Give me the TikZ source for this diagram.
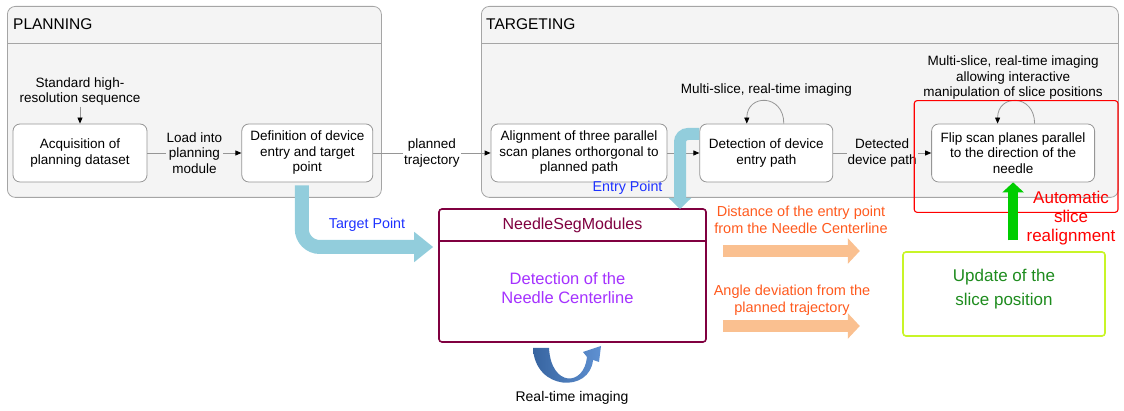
\documentclass[tikz,border=0pt]{standalone}
\usepackage{fontspec}
\setmainfont{Liberation Sans}
\usepackage{xcolor}
\usetikzlibrary{arrows.meta,positioning,calc}

\definecolor{framegray}{RGB}{165,165,165}
\definecolor{framefill}{RGB}{244,244,244}
\definecolor{boxgray}{RGB}{150,150,150}
\definecolor{lightcyan}{RGB}{146,205,220}
\definecolor{peach}{RGB}{250,192,144}
\definecolor{orangetxt}{RGB}{255,90,30}
\definecolor{bluetxt}{RGB}{30,50,255}
\definecolor{segred}{RGB}{128,0,64}
\definecolor{violettxt}{RGB}{165,50,255}
\definecolor{limeedge}{RGB}{200,245,40}
\definecolor{updgreen}{RGB}{30,140,30}
\definecolor{arrgreen}{RGB}{0,205,0}
\definecolor{rtblueA}{RGB}{55,100,160}
\definecolor{rtblueB}{RGB}{95,145,210}

\newcommand{\fsz}[2]{\fontsize{#1}{#2}\selectfont}

\begin{document}
\begin{tikzpicture}[x=1pt, y=1pt,
  font=\fsz{13.5}{15.5},
  frame/.style={draw=framegray, line width=0.8pt, fill=framefill, rounded corners=8pt, anchor=north west, inner sep=0pt},
  hdr/.style={font=\fsz{15.5}{18}, anchor=west, inner sep=0pt},
  stepbox/.style={draw=boxgray, line width=0.8pt, fill=white, rounded corners=7pt, align=center, minimum height=58pt, inner sep=2pt},
  lab/.style={align=center, inner sep=1pt},
  arr/.style={-{Triangle[length=6pt, width=5pt, color=black]}, draw=boxgray, line width=0.8pt},
  bigarr/.style={draw=lightcyan, line width=14pt, rounded corners=18pt, -{Triangle[length=19pt, width=29pt]}},
  entarr/.style={draw=lightcyan, line width=12pt, rounded corners=8pt, -{Triangle[length=11pt, width=22pt]}},
  orarr/.style={draw=peach, line width=12pt, -{Triangle[length=12pt, width=25pt]}},
  grarr/.style={draw=arrgreen, line width=10pt, -{Triangle[length=10pt, width=21pt]}},
  orlbl/.style={font=\fsz{14.5}{16.5}, text=orangetxt, align=center, inner sep=1pt},
  bllbl/.style={font=\fsz{14.3}{16}, text=bluetxt, inner sep=1pt},
  segbox/.style={draw=segred, line width=1.6pt, fill=white, rounded corners=3pt, inner sep=0pt},
  updbox/.style={draw=limeedge, line width=1.6pt, fill=white, rounded corners=3pt, align=center}]
\useasboundingbox (0,0) rectangle (1124,411);
% frames
\node[frame, minimum width=374pt, minimum height=191pt] (plan) at (7,405) {};
\node[frame, minimum width=637pt, minimum height=191pt] (targ) at (481,405) {};
\draw[framegray, line width=0.8pt] ([yshift=-37pt]plan.north west) -- ([yshift=-37pt]plan.north east);
\draw[framegray, line width=0.8pt] ([yshift=-37pt]targ.north west) -- ([yshift=-37pt]targ.north east);
\node[hdr] at ([xshift=6pt,yshift=-18pt]plan.north west) {PLANNING};
\node[hdr] at ([xshift=5pt,yshift=-18pt]targ.north west) {TARGETING};
% steps
\node[stepbox, minimum width=134pt] (acq) at (80,258) {Acquisition of\\planning dataset};
\node[stepbox, minimum width=131pt, right=94pt of acq] (def) {Definition of device\\entry and target\\point};
\node[stepbox, minimum width=176pt] (align) at (579,258) {Alignment of three parallel\\scan planes orthorgonal to\\planned path};
\node[stepbox, minimum width=133pt, right=32pt of align] (det) {Detection of device\\entry path};
\node[stepbox, minimum width=163pt, right=98pt of det] (flip) {Flip scan planes parallel\\to the direction of the\\needle};
\node[lab, above=17pt of acq] (std) {Standard high-\\resolution sequence};
\node[lab, above=26pt of det] (detlbl) {Multi-slice, real-time imaging};
\node[lab, above=23pt of flip] (fliplbl) {Multi-slice, real-time imaging\\allowing interactive\\manipulation of slice positions};
% thin connectors
\draw[arr] (std) -- (acq);
\draw[arr] (acq) -- node[lab, fill=framefill] {Load into\\planning\\module} (def);
\draw[arr] (def) -- node[lab, fill=white] {planned\\trajectory} (align);
\draw[arr] (align) -- (det);
\draw[arr] (det) -- node[lab, fill=framefill] {Detected\\device path} (flip);
\draw[arr] ([xshift=17.5pt]det.north) .. controls +(0,30) and +(0,30) .. ([xshift=-19.5pt]det.north);
\draw[arr] ([xshift=21.5pt]flip.north) .. controls +(0,30) and +(0,30) .. ([xshift=-15.5pt]flip.north);
\draw[red, line width=1.1pt, rounded corners=3pt] ([xshift=-17pt,yshift=23pt]flip.north west) rectangle ([xshift=23pt,yshift=-30pt]flip.south east);
% module
\node[segbox, minimum width=267pt, minimum height=133pt] (seg) at (572.5,135.5) {};
\draw[segred, line width=1.6pt] ([yshift=-33pt]seg.north west) -- ([yshift=-33pt]seg.north east);
\node[font=\fsz{16}{19}, text=segred] (segttl) at ($(seg.north)+(0,-17)$) {NeedleSegModules};
\node[font=\fsz{16.5}{19}, text=violettxt, align=center] (segtxt) at ($(seg.center)+(-5,-13)$) {Detection of the\\Needle Centerline};
\node[updbox, minimum width=202pt, minimum height=84pt, text depth=14pt, font=\fsz{17}{24}, text=updgreen] (upd) at (1004,117) {Update of the\\slice position};
% big arrows
\coordinate (tgtip) at ($(seg.west)+(-5,28.5)$);
\coordinate (entip) at (680,202);
\draw[bigarr] ([xshift=-5.5pt,yshift=-3pt]def.south) |- (tgtip);
\draw[entarr] ([yshift=19pt]det.west) -| (entip);
\node[bllbl] (tgtlbl) at (367,186) {Target Point};
\node[bllbl] (entlbl) at (627.5,223) {Entry Point};
\draw[orarr] ($(seg.east)+(16,24.5)$) -- ++(137,0);
\draw[orarr] ($(seg.east)+(16,-50.5)$) -- ++(137,0);
\node[orlbl] (distlbl) at (801,191) {Distance of the entry point\\from the Needle Centerline};
\node[orlbl] (anglbl) at (792,110.5) {Angle deviation from the\\planned trajectory};
\draw[grarr] ($(flip.south)+(0,-58)$) -- (flip.south);
\node[font=\fsz{17}{19}, text=red, align=center] (autolbl) at (1071,193) {Automatic\\slice\\realignment};
% real-time imaging loop
\path[left color=rtblueA, right color=rtblueB] (533,63) .. controls (535,20) and (590,18) .. (593,51)
  -- (599,49) -- (601,65) -- (583,59) -- (587,54) .. controls (584,24) and (551,24) .. (549,63) -- cycle;
\node[font=\fsz{14}{16}] (rtlbl) at (572,13) {Real-time imaging};
\end{tikzpicture}
\end{document}
